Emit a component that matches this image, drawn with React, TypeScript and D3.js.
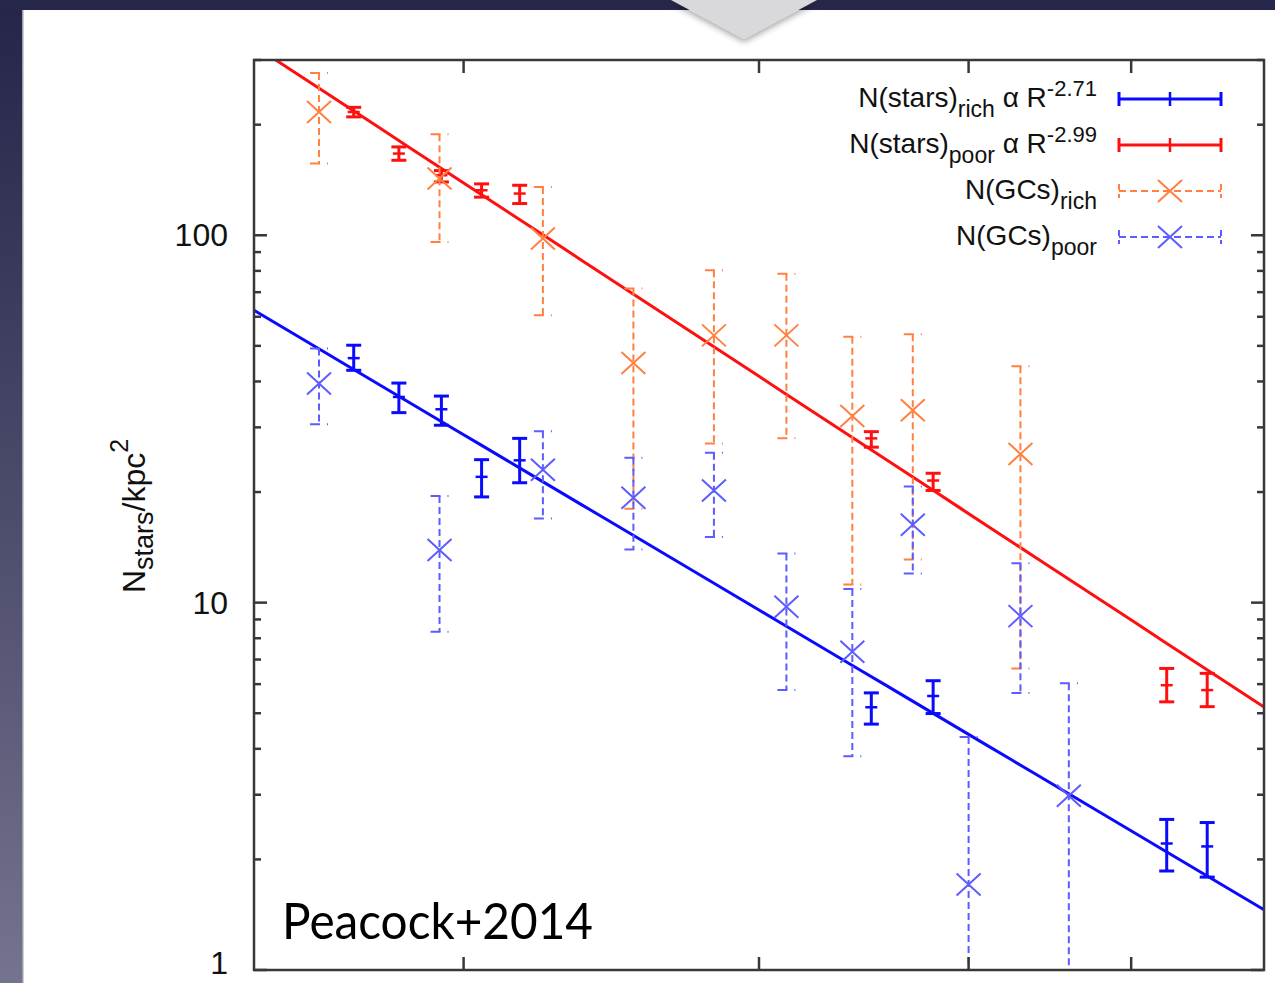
import React from "react";
import * as d3 from "d3";

// ---- data -------------------------------------------------------------
// Radial bins of the stellar density profiles (kpc)
const starsR = [17.2, 18.3, 19.4, 20.5, 21.6, 35.0, 38.1, 52.5, 55.5];
// metal-rich stars
const starsRichN = [46.3, 36.3, 33.6, 22.0, 24.4, 5.19, 5.57, 2.21, 2.17];
const starsRichLo = [42.9, 32.9, 30.4, 19.4, 21.2, 4.67, 4.99, 1.86, 1.79];
const starsRichHi = [50.2, 39.6, 36.5, 24.5, 28.0, 5.68, 6.13, 2.57, 2.52];
// metal-poor stars
const starsPoorN = [216.6, 166.9, 145.7, 132.6, 129.9, 28.0, 21.5, 5.96, 5.78];
const starsPoorLo = [210, 160, 139.7, 127, 122, 26.5, 20.2, 5.37, 5.21];
const starsPoorHi = [223, 174, 150, 138, 136.8, 29.2, 22.5, 6.62, 6.42];

// Radial bins of the globular cluster profiles (kpc)
const gcR = [16.4, 19.35, 22.3, 25.25, 28.2, 31.15, 34.1, 37.05, 40.0, 42.95, 45.9];
// metal-rich GCs (null = empty bin)
const gcRichN = [216.6, 142.7, 98.0, 44.9, 53.4, 53.4, 32.2, 33.4, null, 25.4, null];
const gcRichLo = [156.7, 95.9, 60.6, 18.0, 27.1, 28.0, 11.2, 13.1, null, 6.62, null];
const gcRichHi = [276.5, 188.3, 135.3, 71.6, 80.3, 78.6, 52.9, 53.8, null, 44.0, null];
// metal-poor GCs
const gcPoorN = [39.5, 13.9, 23.0, 19.3, 20.2, 9.74, 7.35, 16.3, 1.71, 9.19, 2.98];
const gcPoorLo = [30.6, 8.33, 16.95, 13.95, 15.1, 5.78, 3.82, 12.0, 0.5, 5.68, 0.5];
const gcPoorHi = [49.2, 19.5, 29.3, 24.8, 25.6, 13.6, 10.9, 20.7, 4.31, 12.8, 6.03];

// Power-law fits N = norm * (R / 30 kpc)^slope
const fitRichSlope = -2.71;
const fitRichNorm = 9.55;
const fitPoorSlope = -2.99;
const fitPoorNorm = 41.3;

// axes
const rDomain = [15, 60];
const nDomain = [1, 300];
const xTickValues = [20, 30, 40, 50];
const yLabelValues = [1, 10, 100];

// legend
const legendMain = ["N(stars)", "N(stars)", "N(GCs)", "N(GCs)"];
const legendSub = ["rich", "poor", "rich", "poor"];
const legendSlope = ["-2.71", "-2.99", null, null];

// ---- drawing ------------------------------------------------------------
const W = 1275;
const H = 983;
const PL = 254;
const PR = 1264;
const PT = 60;
const PB = 970;

const BLUE = "#0a0aff";
const RED = "#ff1010";
const ORANGE = "#ff8040";
const LBLUE = "#5c5cff";
const AXIS = "#383838";
const FONT = "'Liberation Sans', Arial, Helvetica, sans-serif";

const x = d3.scaleLog().domain(rDomain).range([PL, PR]);
const y = d3.scaleLog().domain(nDomain).range([PB, PT]);

const fitLine = (norm: number, slope: number) => {
  const pts = d3.range(0, 41).map((i) => rDomain[0] * Math.pow(rDomain[1] / rDomain[0], i / 40));
  return d3
    .line<number>()
    .x((r) => x(r))
    .y((r) => y(norm * Math.pow(r / 30, slope)))(pts) as string;
};

function StarBars({ n, lo, hi, color }: { n: number[]; lo: number[]; hi: number[]; color: string }) {
  return (
    <g stroke={color} strokeWidth={3} fill="none">
      {starsR.map((r, i) => {
        const cx = x(r);
        return (
          <g key={i}>
            <line x1={cx} x2={cx} y1={y(lo[i])} y2={y(hi[i])} />
            <line x1={cx - 7.5} x2={cx + 7.5} y1={y(lo[i])} y2={y(lo[i])} />
            <line x1={cx - 7.5} x2={cx + 7.5} y1={y(hi[i])} y2={y(hi[i])} />
            <line x1={cx - 6} x2={cx + 6} y1={y(n[i])} y2={y(n[i])} strokeWidth={2.5} />
          </g>
        );
      })}
    </g>
  );
}

function GcBars({
  n,
  lo,
  hi,
  color,
}: {
  n: (number | null)[];
  lo: (number | null)[];
  hi: (number | null)[];
  color: string;
}) {
  return (
    <g stroke={color} strokeWidth={2} fill="none">
      {gcR.map((r, i) => {
        const v = n[i];
        if (v == null) return null;
        const cx = x(r);
        const cy = y(v);
        const yl = y(lo[i] as number);
        const yh = y(hi[i] as number);
        return (
          <g key={i}>
            <line x1={cx} x2={cx} y1={yh} y2={yl} strokeDasharray="7,4" />
            <line x1={cx - 9} x2={cx + 9} y1={yh} y2={yh} strokeDasharray="10,7" />
            <line x1={cx - 9} x2={cx + 9} y1={yl} y2={yl} strokeDasharray="10,7" />
            <path d={`M${cx - 12},${cy - 11}L${cx + 12},${cy + 11}M${cx - 12},${cy + 11}L${cx + 12},${cy - 11}`} />
          </g>
        );
      })}
    </g>
  );
}

function LegendRow({ i }: { i: number }) {
  const ly = 99 + i * 46;
  const x1 = 1119;
  const x2 = 1221;
  const xm = (x1 + x2) / 2;
  const isStars = i < 2;
  const color = [BLUE, RED, ORANGE, LBLUE][i];
  const slope = legendSlope[i];
  return (
    <g>
      <text x={1097} y={ly + 8} textAnchor="end" fontFamily={FONT} fontSize={28} fill="#111">
        {legendMain[i]}
        <tspan dy={10} fontSize={23}>
          {legendSub[i]}
        </tspan>
        {slope ? (
          <>
            <tspan dy={-10}>{" α R"}</tspan>
            <tspan dy={-11} fontSize={22}>
              {slope}
            </tspan>
          </>
        ) : null}
      </text>
      {isStars ? (
        <g stroke={color} strokeWidth={3}>
          <line x1={x1} x2={x2} y1={ly} y2={ly} />
          <line x1={x1} x2={x1} y1={ly - 7} y2={ly + 7} />
          <line x1={x2} x2={x2} y1={ly - 7} y2={ly + 7} />
          <line x1={xm} x2={xm} y1={ly - 7} y2={ly + 7} strokeWidth={2.5} />
        </g>
      ) : (
        <g stroke={color} strokeWidth={2} fill="none">
          <line x1={x1} x2={x2} y1={ly} y2={ly} strokeDasharray="7,4" />
          <line x1={x1} x2={x1} y1={ly - 7} y2={ly + 7} strokeDasharray="6,4" />
          <line x1={x2} x2={x2} y1={ly - 7} y2={ly + 7} strokeDasharray="6,4" />
          <path d={`M${xm - 12},${ly - 11}L${xm + 12},${ly + 11}M${xm - 12},${ly + 11}L${xm + 12},${ly - 11}`} />
        </g>
      )}
    </g>
  );
}

export default function App() {
  // log-scale minor ticks on the N axis
  const yTicks: { v: number; major: boolean }[] = [];
  for (let d = 1; d <= 100; d *= 10) {
    for (let k = 1; k <= 9; k++) {
      const v = d * k;
      if (v <= nDomain[1]) yTicks.push({ v, major: k === 1 });
    }
  }

  return (
    <div style={{ position: "absolute", left: 0, top: 0 }}>
      <svg width={W} height={H} style={{ display: "block" }}>
        <defs>
          <linearGradient id="slideBg" x1="0" y1="0" x2="0" y2="1">
            <stop offset="0" stopColor="#25254a" />
            <stop offset="0.5" stopColor="#4a4a69" />
            <stop offset="1" stopColor="#747490" />
          </linearGradient>
          <filter id="triShadow" x="-20%" y="-20%" width="140%" height="160%">
            <feDropShadow dx="0" dy="3" stdDeviation="3" floodColor="#000" floodOpacity="0.35" />
          </filter>
          <clipPath id="plotClip">
            <rect x={PL} y={PT} width={PR - PL} height={PB - PT} />
          </clipPath>
        </defs>

        {/* slide background and white panel */}
        <rect x={0} y={0} width={W} height={H} fill="url(#slideBg)" />
        <rect x={0} y={0} width={W} height={11} fill="#27274b" />
        <rect x={22} y={10} width={W - 22} height={H - 10} fill="#9c9cab" />
        <rect x={23.5} y={10} width={W - 23.5} height={H - 10} fill="#ffffff" />
        <polygon points="671,0 817,0 744,39" fill="#d9d9db" filter="url(#triShadow)" />

        {/* fits and data */}
        <g clipPath="url(#plotClip)">
          <path d={fitLine(fitPoorNorm, fitPoorSlope)} stroke={RED} strokeWidth={3} fill="none" />
          <path d={fitLine(fitRichNorm, fitRichSlope)} stroke={BLUE} strokeWidth={3} fill="none" />
          <StarBars n={starsRichN} lo={starsRichLo} hi={starsRichHi} color={BLUE} />
          <StarBars n={starsPoorN} lo={starsPoorLo} hi={starsPoorHi} color={RED} />
          <GcBars n={gcRichN} lo={gcRichLo} hi={gcRichHi} color={ORANGE} />
          <GcBars n={gcPoorN} lo={gcPoorLo} hi={gcPoorHi} color={LBLUE} />
        </g>

        {/* frame and ticks */}
        <g stroke={AXIS} strokeWidth={2.5} fill="none">
          <rect x={PL} y={PT} width={PR - PL} height={PB - PT} />
          {yTicks.map((t, i) => {
            const len = t.major ? 13 : 7;
            const yy = y(t.v);
            return (
              <g key={i}>
                <line x1={PL} x2={PL + len} y1={yy} y2={yy} />
                <line x1={PR} x2={PR - len} y1={yy} y2={yy} />
              </g>
            );
          })}
          {xTickValues.map((v) => (
            <g key={v}>
              <line x1={x(v)} x2={x(v)} y1={PB} y2={PB - 13} />
              <line x1={x(v)} x2={x(v)} y1={PT} y2={PT + 13} />
            </g>
          ))}
        </g>

        {/* y tick labels (the lowest one kept inside the page) */}
        {yLabelValues.map((v) => (
          <text
            key={v}
            x={228}
            y={Math.min(y(v), H - 20)}
            textAnchor="end"
            dominantBaseline="central"
            fontFamily={FONT}
            fontSize={32}
            fill="#111"
          >
            {v}
          </text>
        ))}

        {/* y axis title */}
        <text
          transform="translate(145,516) rotate(-90)"
          textAnchor="middle"
          fontFamily={FONT}
          fontSize={32}
          fill="#111"
        >
          N
          <tspan dy={8} fontSize={27}>
            stars
          </tspan>
          <tspan dy={-8}>/kpc</tspan>
          <tspan dy={-17} fontSize={25}>
            2
          </tspan>
        </text>

        {/* legend */}
        {[0, 1, 2, 3].map((i) => (
          <LegendRow key={i} i={i} />
        ))}

        <text
          x={282}
          y={939}
          fontFamily="Lato, 'Open Sans', sans-serif"
          fontSize={50}
          textLength={311}
          lengthAdjust="spacingAndGlyphs"
          fill="#000"
        >
          Peacock+2014
        </text>
      </svg>
    </div>
  );
}
